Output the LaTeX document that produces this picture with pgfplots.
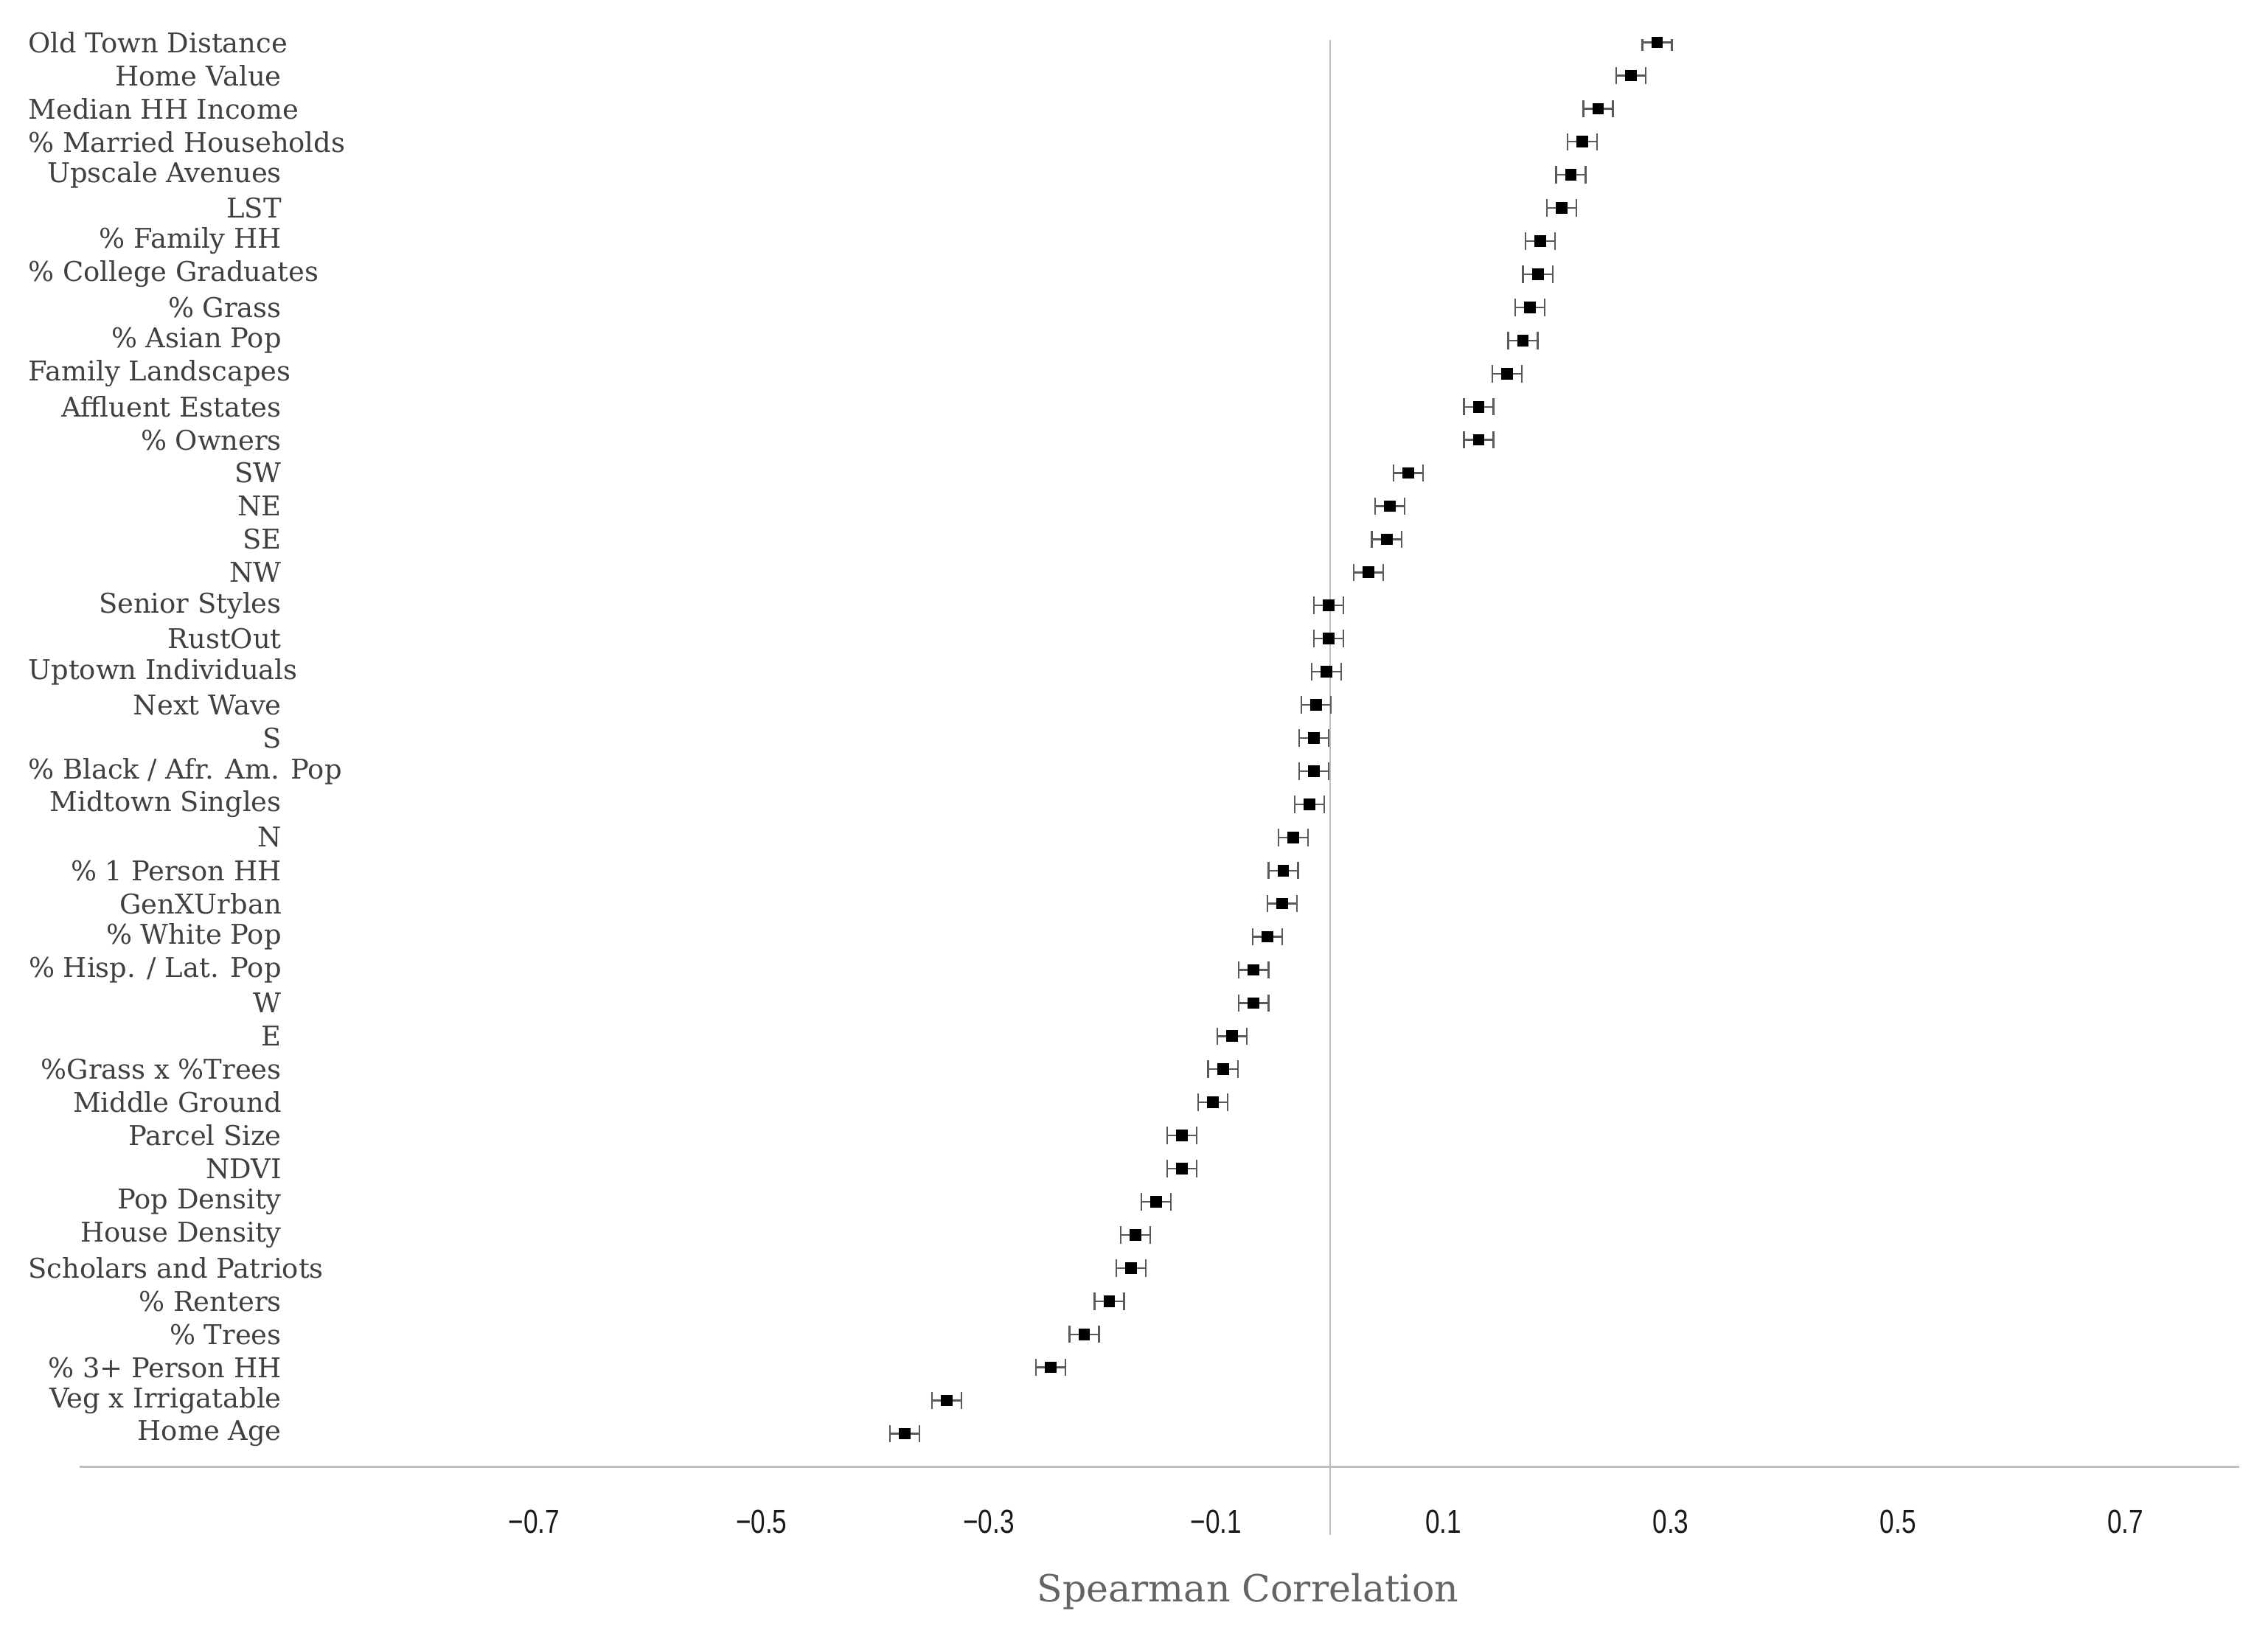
\documentclass[border=0pt]{standalone}
\usepackage{fontspec}
\setmainfont{DejaVu Serif}
\newfontfamily\tickfont[FakeStretch=0.78]{Liberation Sans}
\usepackage{pgfplots}
\usepackage{pgfplotstable}
\pgfplotsset{compat=1.18}
\definecolor{labgray}{RGB}{64,64,64}
\definecolor{titlegray}{RGB}{100,100,100}
\definecolor{linegray}{RGB}{191,191,191}
\definecolor{errgray}{RGB}{90,90,90}

% rows counted from the bottom: y=1 is Home Age, y=43 is Old Town Distance
\pgfplotstableread{
y  x       e
43 0.288   0.013
42 0.265   0.013
41 0.236   0.013
40 0.222   0.013
39 0.212   0.013
38 0.204   0.013
37 0.185   0.013
36 0.183   0.013
35 0.176   0.013
34 0.170   0.013
33 0.156   0.013
32 0.131   0.013
31 0.131   0.013
30 0.069   0.013
29 0.053   0.013
28 0.050   0.013
27 0.034   0.013
26 -0.001  0.013
25 -0.001  0.013
24 -0.003  0.013
23 -0.012  0.013
22 -0.014  0.013
21 -0.014  0.013
20 -0.018  0.013
19 -0.032  0.013
18 -0.041  0.013
17 -0.042  0.013
16 -0.055  0.013
15 -0.067  0.013
14 -0.067  0.013
13 -0.086  0.013
12 -0.094  0.013
11 -0.103  0.013
10 -0.130  0.013
9  -0.130  0.013
8  -0.153  0.013
7  -0.171  0.013
6  -0.175  0.013
5  -0.194  0.013
4  -0.216  0.013
3  -0.2455 0.013
2  -0.337  0.013
1  -0.374  0.013
}\corr

\newcommand\lft[1]{\makebox[87.5pt][l]{#1}}

\begin{document}
\begin{tikzpicture}
\begin{axis}[
  scale only axis, width=746.5pt, height=493.3pt,
  xmin=-1.1, xmax=0.8, ymin=0, ymax=43.08,
  axis x line*=bottom, axis y line*=left, axis line style={-},
  x axis line style={draw=linegray, line width=0.7pt},
  y axis line style={draw=none},
  major tick length=0pt,
  xtick={-0.7,-0.5,-0.3,-0.1,0.1,0.3,0.5,0.7},
  xticklabels={−0.7,−0.5,−0.3,−0.1,0.1,0.3,0.5,0.7},
  xticklabel style={font=\tickfont\fontsize{11.5}{12}\selectfont, text=black!90, anchor=center, yshift=-19pt},
  ytick={1,...,43},
  yticklabels={Home Age, Veg x Irrigatable, \% 3+ Person HH, \% Trees, \% Renters,
    \lft{Scholars and Patriots}, House Density, Pop Density, NDVI, Parcel Size,
    Middle Ground, \%Grass x \%Trees, E, W, \% Hisp. / Lat. Pop,
    \% White Pop, GenXUrban, \% 1 Person HH, N, Midtown Singles,
    \lft{\% Black / Afr. Am. Pop}, S, Next Wave, \lft{Uptown Individuals}, RustOut,
    Senior Styles, NW, SE, NE, SW,
    \% Owners, Affluent Estates, \lft{Family Landscapes}, \% Asian Pop, \% Grass,
    \lft{\% College Graduates}, \% Family HH, LST, Upscale Avenues, \lft{\% Married Households},
    \lft{Median HH Income}, Home Value, \lft{Old Town Distance}},
  yticklabel style={font=\fontsize{9.4}{10}\selectfont, text=labgray, anchor=east, inner sep=0pt, xshift=70pt},
  xlabel={Spearman Correlation},
  xlabel style={at={(axis description cs:0.541,0)}, anchor=center, yshift=-43pt,
    font=\fontsize{12.9}{14}\selectfont, text=titlegray},
  clip mode=individual,
]
\draw[linegray, line width=0.5pt] (axis cs:0,43.08) -- ([yshift=-23.5pt]axis cs:0,0);
\addplot[only marks, mark=square*, mark size=1.8pt, black,
  error bars/.cd, x dir=both, x explicit, error mark=|,
  error bar style={draw=errgray, line width=0.6pt},
  error mark options={draw=errgray, mark size=3pt, line width=0.6pt}]
  table[x=x, y=y, x error=e] {\corr};
\end{axis}
\path ([xshift=-27.5pt,yshift=-59.5pt]current axis.south west) rectangle ([xshift=10pt,yshift=13.75pt]current axis.north east);
\end{tikzpicture}
\end{document}
